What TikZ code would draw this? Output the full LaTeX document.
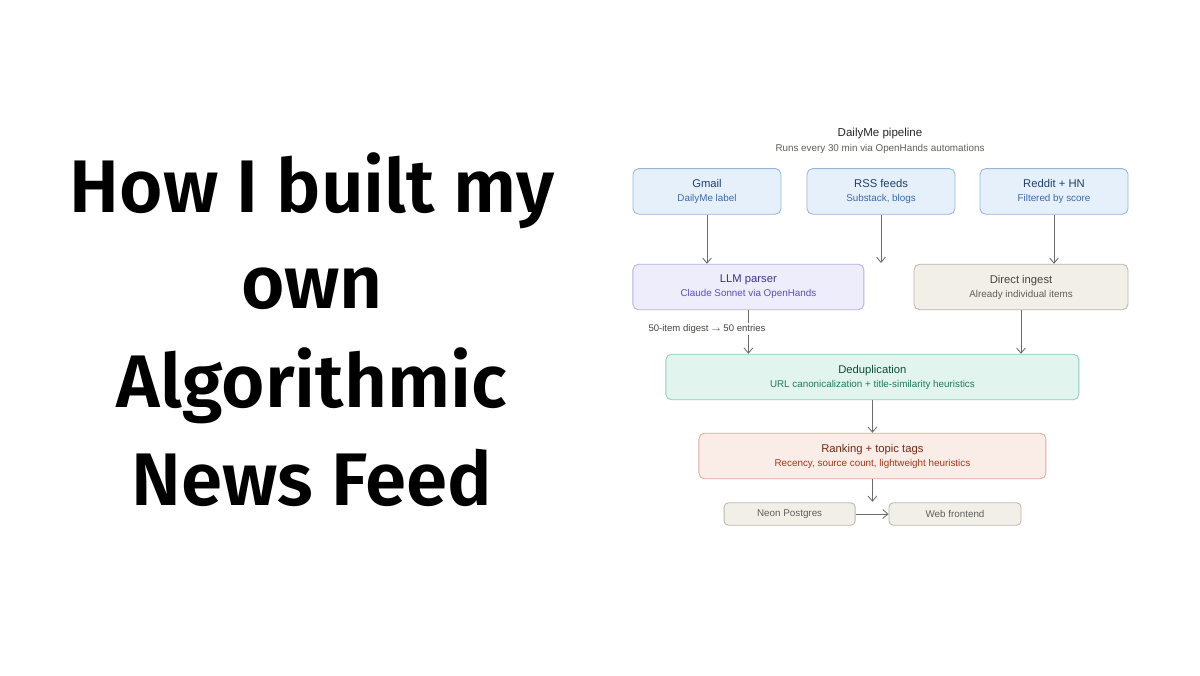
\documentclass[tikz,border=0pt]{standalone}
\usepackage{fontspec}
\setmainfont{Liberation Sans}
\newfontfamily\headfont{Fira Sans}[BoldFont={Fira Sans SemiBold}]
\usetikzlibrary{arrows.meta,positioning}

\definecolor{bluefill}{HTML}{E6F0FB}
\definecolor{blueline}{HTML}{94B6DA}
\definecolor{bluetext}{HTML}{1E3F6B}
\definecolor{bluesub}{HTML}{3A6AA8}
\definecolor{purpfill}{HTML}{EEEDFC}
\definecolor{purpline}{HTML}{B8B1E6}
\definecolor{purptext}{HTML}{3B3488}
\definecolor{purpsub}{HTML}{5A4FBF}
\definecolor{sandfill}{HTML}{F1EFE8}
\definecolor{sandline}{HTML}{BAB7AE}
\definecolor{sandtext}{HTML}{444441}
\definecolor{sandsub}{HTML}{5F5E5A}
\definecolor{greenfill}{HTML}{E1F5EE}
\definecolor{greenline}{HTML}{92CDB7}
\definecolor{greentext}{HTML}{0F4D3A}
\definecolor{greensub}{HTML}{1D7A5A}
\definecolor{redfill}{HTML}{FAECE7}
\definecolor{redline}{HTML}{E2AA9A}
\definecolor{redtext}{HTML}{712B13}
\definecolor{redsub}{HTML}{993C1D}
\definecolor{wireclr}{HTML}{6B6B6B}

\tikzset{
  stage/.style={draw, rounded corners=4pt, line width=0.6pt, align=center,
    minimum height=1.14cm, inner sep=0pt, font=\fontsize{8}{11}\selectfont},
  sink/.style={draw=sandline, fill=sandfill, text=sandsub, rounded corners=3pt,
    line width=0.6pt, minimum height=0.56cm, inner sep=0pt,
    font=\fontsize{7}{9}\selectfont},
  wire/.style={draw=wireclr, line width=0.6pt, -{Straight Barb[length=1.3mm,width=2.2mm]}},
  headline/.style={anchor=base, font=\headfont\bfseries\fontsize{53}{60}\selectfont}
}
\newcommand{\sub}[1]{\\[-1pt]{\fontsize{7}{9}\selectfont #1}}

\begin{document}
\begin{tikzpicture}
		%%%%% START %%%%%
		\useasboundingbox[fill=white] (0, 0) rectangle (30, 16.875);
		
		% big title on the left
		\node[headline] (head1) at (7.8, 11.55) {How I built my};
		\node[headline] (head2) at (7.8, 9.175) {own};
		\node[headline] (head3) at (7.8, 6.7) {Algorithmic};
		\node[headline] (head4) at (7.8, 4.25) {News Feed};
		
		% pipeline caption
		\node[font=\fontsize{8.2}{10}\selectfont, text=black!85] (cap) at (22.0, 13.53) {DailyMe pipeline};
		\node[font=\fontsize{7}{9}\selectfont, text=sandsub] (capsub) at (22.0, 13.14) {Runs every 30 min via OpenHands automations};
		
		% sources
		\node[stage, draw=blueline, fill=bluefill, text=bluetext, minimum width=3.7cm] (gmail) at (17.675, 12.09)
			{Gmail\sub{\color{bluesub}DailyMe label}};
		\node[stage, draw=blueline, fill=bluefill, text=bluetext, minimum width=3.7cm] (rss) at (22.025, 12.09)
			{RSS feeds\sub{\color{bluesub}Substack, blogs}};
		\node[stage, draw=blueline, fill=bluefill, text=bluetext, minimum width=3.7cm] (reddit) at (26.35, 12.09)
			{Reddit + HN\sub{\color{bluesub}Filtered by score}};
		
		% parsing
		\node[stage, draw=purpline, fill=purpfill, text=purptext, minimum width=5.775cm] (llm) at (18.71, 9.7)
			{LLM parser\sub{\color{purpsub}Claude Sonnet via OpenHands}};
		\node[stage, draw=sandline, fill=sandfill, text=sandtext, minimum width=5.35cm] (direct) at (25.525, 9.7)
			{Direct ingest\sub{\color{sandsub}Already individual items}};
		
		% merging
		\node[stage, draw=greenline, fill=greenfill, text=greentext, minimum width=10.325cm] (dedup) at (21.81, 7.45)
			{Deduplication\sub{\color{greensub}URL canonicalization + title-similarity heuristics}};
		\node[stage, draw=redline, fill=redfill, text=redtext, minimum width=8.675cm] (rank) at (21.81, 5.475)
			{Ranking + topic tags\sub{\color{redsub}Recency, source count, lightweight heuristics}};
		
		% output
		\node[sink, minimum width=3.275cm] (neon) at (19.74, 4.025) {Neon Postgres};
		\node[sink, minimum width=3.3cm] (web) at (23.875, 4.025) {Web frontend};
		
		\coordinate (rssend) at (22.025, 10.3);
		\coordinate (rankend) at (21.81, 4.33);
		
		\draw[wire] (gmail.south) -- (gmail.south |- llm.north);
		\draw[wire] (rss.south) -- (rssend);
		\draw[wire] (reddit.south) -- (reddit.south |- direct.north);
		\draw[wire] (llm.south) -- (llm.south |- dedup.north);
		\draw[wire] (direct.south) -- (direct.south |- dedup.north);
		\draw[wire] (dedup.south) -- (rank.north);
		\draw[wire] (rank.south) -- (rankend);
		\draw[wire] (neon.east) -- (web.west);
		
		\node[fill=white, inner sep=1pt, text=sandtext, font=\fontsize{6.8}{8}\selectfont] (digest) at (17.675, 8.65)
			{50-item digest {\fontsize{5}{6}\selectfont$\rightarrow$} 50 entries};
		
		%%%%% END %%%%%
	\end{tikzpicture}
\end{document}
